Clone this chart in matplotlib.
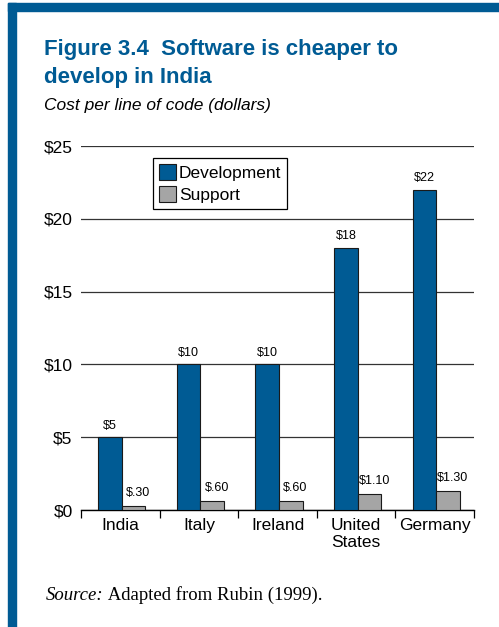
import matplotlib.pyplot as plt
from matplotlib.patches import Rectangle
import numpy as np

# Data
countries = ["India", "Italy", "Ireland", "United\nStates", "Germany"]
development = [5, 10, 10, 18, 22]
support = [0.30, 0.60, 0.60, 1.10, 1.30]
dev_labels = ["$5", "$10", "$10", "$18", "$22"]
sup_labels = ["$.30", "$.60", "$.60", "$1.10", "$1.30"]
yticks = [0, 5, 10, 15, 20, 25]
ytick_labels = ["$0", "$5", "$10", "$15", "$20", "$25"]

blue = "#005b94"
grey = "#a5a5a5"

plt.rcParams["font.family"] = ["Liberation Sans", "DejaVu Sans"]

fig = plt.figure(figsize=(4.99, 6.27), dpi=100)
W, H = 499, 627

# Blue frame (left and top)
fig.patches.append(Rectangle((8 / W, 0), 8 / W, (H - 3) / H, transform=fig.transFigure,
                             color=blue, zorder=0))
fig.patches.append(Rectangle((8 / W, (H - 11) / H), 1 - 8 / W, 8 / H, transform=fig.transFigure,
                             color=blue, zorder=0))

# Titles
fig.text(44 / W, 1 - 55 / H, "Figure 3.4  Software is cheaper to", color=blue,
         fontsize=16, fontweight="bold", va="baseline", ha="left")
fig.text(44 / W, 1 - 83 / H, "develop in India", color=blue,
         fontsize=16, fontweight="bold", va="baseline", ha="left")
fig.text(44 / W, 1 - 110 / H, "Cost per line of code (dollars)", fontsize=12.5,
         style="italic", va="baseline", ha="left")

# Source line
src = fig.text(46 / W, 1 - 600 / H, "Source:", family=["Liberation Serif"], style="italic",
               fontsize=13.5, va="baseline", ha="left")
fig.canvas.draw()
bb = src.get_window_extent()
fig.text(bb.x1 / W, 1 - 600 / H, " Adapted from Rubin (1999).", family=["Liberation Serif"],
         fontsize=13.5, va="baseline", ha="left")

ax = fig.add_axes([81 / W, (H - 510) / H, (474 - 81) / W, (510 - 146) / H])

x = np.arange(len(countries))
w = 0.30
ax.bar(x - 0.13, development, width=w, color=blue, edgecolor="#1a1a1a", linewidth=0.8,
       label="Development", zorder=3)
ax.bar(x + 0.17, support, width=w, color=grey, edgecolor="#1a1a1a", linewidth=0.8,
       label="Support", zorder=3)

for xi, v, lab in zip(x, development, dev_labels):
    ax.annotate(lab, (xi - 0.13, v), xytext=(0, 4), textcoords="offset points",
                ha="center", va="bottom", fontsize=9)
for xi, v, lab in zip(x, support, sup_labels):
    ax.annotate(lab, (xi + 0.23, v), xytext=(0, 5), textcoords="offset points",
                ha="center", va="bottom", fontsize=9)

ax.set_xlim(-0.5, 4.5)
ax.set_ylim(0, 25)
ax.set_yticks(yticks)
ax.set_yticklabels(ytick_labels, fontsize=12.5)
ax.yaxis.grid(True, color="#333333", linewidth=0.9, zorder=0)
ax.tick_params(axis="y", length=0, pad=6)

ax.set_xticks(x)
ax.set_xticklabels(countries, fontsize=12.5, linespacing=1.15)
ax.tick_params(axis="x", length=0, pad=6)
ax.set_xticks(np.arange(-0.5, 5, 1), minor=True)
ax.tick_params(axis="x", which="minor", length=6, width=0.9, direction="out")

for s in ["left", "right", "top"]:
    ax.spines[s].set_visible(False)
ax.spines["bottom"].set_linewidth(1.0)
ax.set_axisbelow(True)

leg = ax.legend(loc="upper left", bbox_to_anchor=(0.183, 0.967), borderaxespad=0,
                fancybox=False, edgecolor="black", framealpha=1, fontsize=12.5,
                handlelength=1.0, handleheight=1.0, handletextpad=0.15,
                labelspacing=0.3, borderpad=0.35)
leg.get_frame().set_linewidth(0.9)

fig.savefig("out.png", dpi=100)
